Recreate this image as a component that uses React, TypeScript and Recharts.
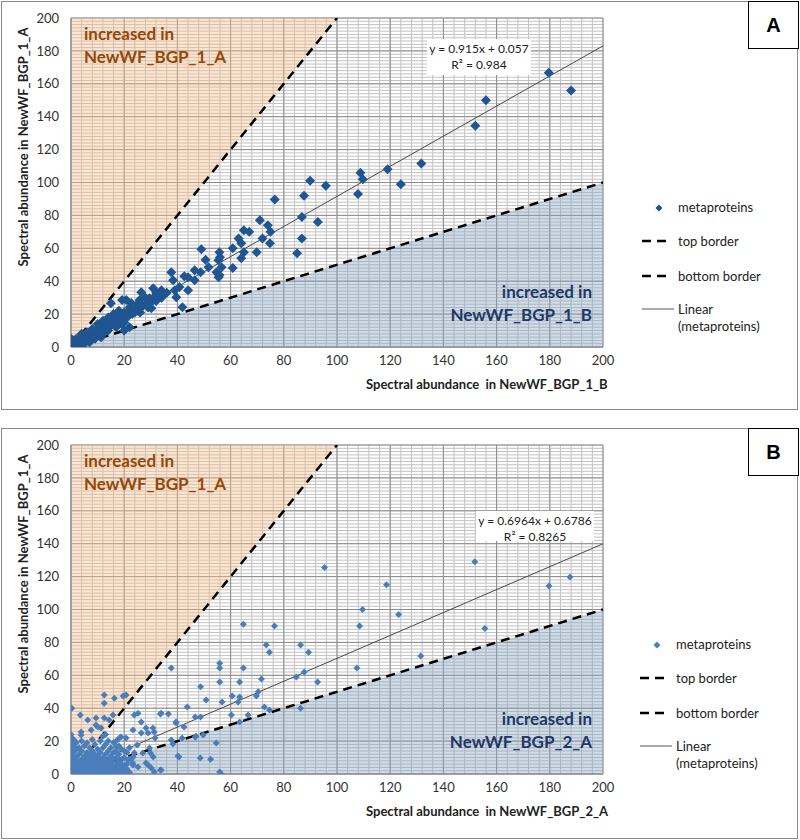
import React from 'react';
import {
  ComposedChart,
  Scatter,
  Line,
  Area,
  XAxis,
  YAxis,
  CartesianGrid,
} from 'recharts';

// axis ticks shared by both panels
const MAJOR_TICKS = [0, 20, 40, 60, 80, 100, 120, 140, 160, 180, 200];
const MINOR_X = Array.from({ length: 51 }, (_, i) => i * 4);
const MINOR_Y = Array.from({ length: 101 }, (_, i) => i * 2);

// borders (fold-change 2) and shaded zones
const topBorder = [
  { x: 0, y: 0 },
  { x: 100, y: 200 },
];
const bottomBorder = [
  { x: 0, y: 0 },
  { x: 200, y: 100 },
];
const zoneA = [
  { x: 0, v: [0, 200] },
  { x: 100, v: [200, 200] },
];
const zoneB = [
  { x: 0, v: [0, 0] },
  { x: 200, v: [0, 100] },
];

// panel A: NewWF_BGP_1_B (x) vs NewWF_BGP_1_A (y)
const pointsA: [number, number][] = [
  [188, 156], [179.6, 166.7], [156, 150], [152, 134.5], [131.7, 111.5], [124, 99], [119, 108],
  [109.7, 102], [108.8, 106], [107.9, 93], [95.8, 98], [89.9, 101], [87.6, 92], [76.6, 89.7],
  [86.8, 79], [92.8, 76], [86.8, 66], [85, 57], [71, 77], [74, 74], [75, 70], [72, 66], [69.8, 57.6],
  [74.8, 63], [65, 71], [67, 70], [63, 66], [60.8, 60], [64, 63], [65, 57.6], [64, 54], [60.8, 48],
  [55.8, 57.6], [56, 54.5], [55.4, 52.7], [56.6, 48.5], [54.7, 45.5], [55.8, 43.6], [49, 59.4],
  [50.6, 53], [51.7, 48.5], [48.7, 45.5], [55.5, 42.4], [46.5, 46.7], [46.5, 40.6], [44, 42.4],
  [42.6, 43], [37.7, 45.5], [38.4, 40.6], [41.9, 24.2], [44, 34.5], [40.8, 36.4], [39, 34.5],
  [39.6, 30.3], [34, 34.5], [30.9, 35.7], [29.5, 29.7], [26.4, 33.3], [25.8, 28.5], [20.8, 28.5],
  [30.2, 23.6], [22.6, 26.7], [23.8, 22.4], [22, 12], [19.2, 28.5], [15, 26.6], [20, 10], [11.3, 6],
  [0, 0], [0.5, 1], [1, 0], [1, 2], [1.5, 1], [2, 2], [2, 3], [0, 3], [0, 5], [0.5, 4], [1, 4],
  [3, 2], [3, 3], [3, 5], [4, 3], [4, 4], [4, 6], [5, 4], [5, 5], [5, 3], [6, 5], [6, 6], [6, 4],
  [7, 6], [7, 7], [7, 5], [8, 6], [8, 7], [8, 8], [9, 8], [9, 7], [9, 10], [10, 9], [10, 8], [10, 11],
  [11, 9], [11, 10], [11, 12], [12, 10], [12, 11], [12, 13], [13, 12], [13, 11], [13, 14], [14, 12],
  [14, 13], [14, 15], [15, 14], [15, 13], [15, 16], [16, 14], [16, 15], [16, 17], [17, 15], [17, 16],
  [18, 16], [18, 17], [18, 19], [19, 17], [19, 18], [20, 18], [20, 19], [20, 21], [21, 18], [21, 20],
  [22, 20], [22, 22], [23, 20], [24, 21], [24, 23], [25, 22], [26, 24], [26, 21], [27, 25], [28, 26],
  [29, 24], [30, 27], [31, 30], [32, 28], [33, 31], [34, 30], [35, 32], [36, 33], [3, 0], [5, 2],
  [7, 3], [9, 5], [12, 8], [14, 10], [17, 12], [19, 14], [20, 15], [2, 5], [4, 8], [6, 9], [8, 11],
  [10, 14], [12, 16], [14, 18], [16, 20], [18, 22], [22, 24], [25, 26], [28, 30], [32, 33],
];

// panel B: NewWF_BGP_2_A (x) vs NewWF_BGP_1_A (y)
const pointsB: [number, number][] = [
  [95.3, 125.5], [64.8, 91], [76.5, 90], [108.5, 90], [109.6, 100], [118.6, 115], [123.2, 97],
  [151.8, 129], [155.6, 88.5], [179.7, 114.3], [187.6, 119.8], [131.5, 71.7],
  [73.4, 78.4], [74.6, 74], [86.3, 78.4], [89.3, 74], [87.7, 62], [84.7, 59], [86.3, 40], [92.7, 56],
  [107.5, 64.5], [55.9, 67.3], [55.9, 64.5], [64.8, 64.5], [55.9, 56], [63.4, 56], [71.6, 57.7],
  [60.6, 47.4], [63.4, 46.8], [62.8, 43.8], [70.4, 50], [69.7, 47.4], [60.3, 35.9], [66.6, 35.9],
  [63.4, 31.6], [72.7, 40.7], [74.6, 38.9], [56.8, 43.8], [48.7, 53], [50.8, 45], [48.7, 34.6],
  [46.7, 34.6], [49.7, 23.7], [48.6, 9.7], [52.5, 9], [43.7, 40.7], [42.5, 28.6], [41.8, 21.9],
  [40.6, 10.4], [37.7, 64.5], [39.5, 31.6], [36.6, 36.5], [33.6, 36.5], [37.7, 20.7], [38.3, 18.2],
  [46.7, 22.5], [54.6, 18.9], [55.9, 1.2], [56.5, 0], [30.8, 28], [31.3, 25.5], [31.6, 21.9],
  [29.9, 12.8], [29, 5.5], [31.3, 1.2], [33.6, 2.4], [29.5, 15.8], [25.2, 37], [23.8, 35.9],
  [26.4, 31.6], [26.4, 24.9], [23.3, 26.7], [20.7, 21.9], [18.2, 21.9], [20, 0.6], [20.7, 48],
  [16.3, 46], [12.5, 48], [12.5, 43], [15.8, 35.9], [12.5, 34], [10.1, 28.6], [7.6, 26.7],
  [3.8, 25.5], [0.3, 40], [3.5, 35.9], [6.3, 32.8], [3.8, 23.7], [23.8, 12.8], [23.2, 6.7],
  [27, 12.8], [19.6, 47.4], [9.4, 34], [14.3, 32.8], [9.4, 29.8], [11.3, 28], [28.2, 28], [29, 25],
  [24.9, 17.6], [23.3, 10.4], [30.9, 10.4], [28.2, 6.7], [25.2, 4.3], [30.2, 3.6], [33.9, 2.4],
  [20, 1.2], [23.3, 5.5], [21.4, 8.5], [18.8, 22.5], [17, 16.4], [47, 23], [39.5, 31], [40.2, 11],
  [33.9, 37],
  [0, 0], [0, 2], [0, 4], [0, 6], [0, 8], [0, 10], [0, 12], [0, 14], [0, 16], [0, 18], [0, 20],
  [0, 22], [0, 24], [1, 0], [1, 3], [1, 5], [1, 7], [1, 9], [1, 11], [1, 13], [1, 17], [1, 21],
  [2, 0], [2, 1], [2, 4], [2, 6], [2, 8], [2, 10], [2, 15], [2, 19], [3, 0], [3, 2], [3, 3], [3, 5],
  [3, 7], [3, 12], [3, 16], [4, 0], [4, 1], [4, 4], [4, 6], [4, 9], [4, 14], [4, 20], [5, 0], [5, 2],
  [5, 3], [5, 5], [5, 8], [5, 11], [5, 17], [6, 0], [6, 1], [6, 4], [6, 6], [6, 10], [6, 13], [6, 19],
  [7, 0], [7, 2], [7, 3], [7, 5], [7, 8], [7, 12], [7, 16], [8, 0], [8, 1], [8, 4], [8, 7], [8, 10],
  [8, 14], [8, 21], [9, 0], [9, 2], [9, 3], [9, 6], [9, 9], [9, 12], [9, 18], [10, 0], [10, 1],
  [10, 4], [10, 5], [10, 8], [10, 11], [10, 15], [11, 0], [11, 3], [11, 6], [11, 9], [11, 13],
  [11, 20], [12, 0], [12, 2], [12, 4], [12, 7], [12, 10], [12, 16], [12, 23], [13, 0], [13, 1],
  [13, 5], [13, 8], [13, 12], [13, 18], [13, 24], [14, 0], [14, 3], [14, 6], [14, 9], [14, 14],
  [14, 20], [15, 0], [15, 2], [15, 4], [15, 7], [15, 11], [15, 16], [16, 0], [16, 1], [16, 5],
  [16, 9], [16, 13], [16, 19], [17, 0], [17, 3], [17, 6], [17, 10], [17, 14], [17, 20], [18, 0],
  [18, 2], [18, 4], [18, 8], [18, 12], [18, 17], [19, 0], [19, 3], [19, 6], [19, 9], [19, 15],
  [20, 0], [20, 2], [20, 5], [20, 10], [20, 14], [21, 3], [21, 6], [22, 1], [22, 9], [22, 16], [21, 13],
];

// trend lines (Excel "Linear (metaproteins)")
const trendA = [
  { x: 0, y: 0.057 },
  { x: 200, y: 183.057 },
];
const trendB = [
  { x: 0, y: 0.6786 },
  { x: 200, y: 139.9586 },
];

const FONT = 'Lato, "Open Sans", sans-serif';
const tickStyle = { fontSize: 13, fill: '#333', fontFamily: FONT };

const PLOT_LEFT = 70;
const PLOT_RIGHT = 602;
const PLOT_TOP = 17;

const diamond = (size: number, color: string) => (props: any) => {
  const { cx, cy } = props;
  if (cx == null || cy == null) return <g />;
  const r = size / 2;
  return (
    <path
      d={`M${cx},${cy - r}L${cx + r},${cy}L${cx},${cy + r}L${cx - r},${cy}Z`}
      fill={color}
    />
  );
};

interface PanelProps {
  top: number;
  height: number;
  plotBottom: number;
  points: [number, number][];
  trend: { x: number; y: number }[];
  color: string;
  size: number;
  letter: string;
  eq: string;
  r2: string;
  eqBox: { left: number; top: number; width: number; height: number };
  xTitle: string;
  lowLabel: string;
  legendTop: number;
  legendLeft: number;
}

function Panel(p: PanelProps) {
  const data = p.points.map(([x, y]) => ({ x, y }));
  const plotH = p.plotBottom - PLOT_TOP;
  const plotW = PLOT_RIGHT - PLOT_LEFT;
  // grid positions in pixels (gridlines only, not data marks)
  const gx = (vals: number[]) => vals.map((v) => PLOT_LEFT + (v / 200) * plotW);
  const gy = (vals: number[]) => vals.map((v) => PLOT_TOP + ((200 - v) / 200) * plotH);
  return (
    <div
      style={{
        position: 'absolute',
        left: 1,
        top: p.top,
        width: 797,
        height: p.height,
        border: '1px solid #8a8a8a',
        boxSizing: 'border-box',
        fontFamily: FONT,
      }}
    >
      <div style={{ position: 'absolute', left: -1, top: -1 }}>
        <ComposedChart
          width={800}
          height={p.height}
          margin={{ top: PLOT_TOP, right: 800 - PLOT_RIGHT, left: 10, bottom: p.height - p.plotBottom - 30 }}
        >
          <CartesianGrid
            stroke="#c2c2c2"
            horizontalPoints={gy(MINOR_Y)}
            verticalPoints={gx(MINOR_X)}
          />
          <CartesianGrid
            stroke="#8c8c8c"
            horizontalPoints={gy(MAJOR_TICKS)}
            verticalPoints={gx(MAJOR_TICKS)}
          />
          <XAxis
            type="number"
            dataKey="x"
            domain={[0, 200]}
            ticks={MAJOR_TICKS}
            allowDataOverflow
            height={30}
            tickLine={false}
            tickSize={0}
            tickMargin={9}
            axisLine={{ stroke: '#868686' }}
            tick={tickStyle}
          />
          <YAxis
            type="number"
            dataKey="y"
            domain={[0, 200]}
            ticks={MAJOR_TICKS}
            allowDataOverflow
            width={60}
            tickLine={false}
            tickSize={0}
            tickMargin={12}
            axisLine={{ stroke: '#868686' }}
            tick={tickStyle}
          />
          <Area
            data={zoneA}
            dataKey="v"
            type="linear"
            stroke="none"
            fill="#f7c08e"
            fillOpacity={0.4}
            isAnimationActive={false}
          />
          <Area
            data={zoneB}
            dataKey="v"
            type="linear"
            stroke="none"
            fill="#8aa5c6"
            fillOpacity={0.4}
            isAnimationActive={false}
          />
          <Line
            data={topBorder}
            dataKey="y"
            type="linear"
            stroke="#000"
            strokeWidth={2.5}
            strokeDasharray="9 6"
            dot={false}
            isAnimationActive={false}
          />
          <Line
            data={bottomBorder}
            dataKey="y"
            type="linear"
            stroke="#000"
            strokeWidth={2.5}
            strokeDasharray="9 6"
            dot={false}
            isAnimationActive={false}
          />
          <Scatter
            data={data}
            dataKey="y"
            shape={diamond(p.size, p.color)}
            isAnimationActive={false}
          />
          <Line
            data={p.trend}
            dataKey="y"
            type="linear"
            stroke="#4a4a4a"
            strokeWidth={1}
            dot={false}
            isAnimationActive={false}
          />
        </ComposedChart>
      </div>

      {/* zone labels */}
      <div
        style={{
          position: 'absolute',
          left: 82,
          top: 20,
          color: '#974706',
          fontWeight: 700,
          fontSize: 17,
          lineHeight: '23px',
        }}
      >
        increased in
        <br />
        NewWF_BGP_1_A
      </div>
      <div
        style={{
          position: 'absolute',
          right: 797 - 592,
          top: p.plotBottom - 68,
          color: '#1f3864',
          fontWeight: 700,
          fontSize: 17,
          lineHeight: '23px',
          textAlign: 'right',
        }}
      >
        increased in
        <br />
        {p.lowLabel}
      </div>

      {/* trend equation */}
      <div
        style={{
          position: 'absolute',
          left: p.eqBox.left,
          top: p.eqBox.top,
          width: p.eqBox.width,
          height: p.eqBox.height,
          background: '#fff',
          fontSize: 12,
          lineHeight: '16px',
          textAlign: 'center',
          color: '#222',
          paddingTop: 2,
          boxSizing: 'border-box',
        }}
      >
        {p.eq}
        <br />
        {p.r2}
      </div>

      {/* axis titles */}
      <div
        style={{
          position: 'absolute',
          left: 364,
          top: p.plotBottom + 28,
          fontWeight: 700,
          fontSize: 13,
          color: '#222',
          whiteSpace: 'pre',
        }}
      >
        {p.xTitle}
      </div>
      <div
        style={{
          position: 'absolute',
          left: 21,
          top: PLOT_TOP + plotH * 0.39,
          transform: 'translate(-50%, -50%) rotate(-90deg)',
          fontWeight: 700,
          fontSize: 13,
          color: '#222',
          whiteSpace: 'pre',
        }}
      >
        Spectral abundance in NewWF_BGP_1_A
      </div>

      {/* panel letter */}
      <div
        style={{
          position: 'absolute',
          left: 746,
          top: -1,
          width: 51,
          height: 48,
          border: '1px solid #000',
          boxSizing: 'border-box',
          background: '#fff',
          display: 'flex',
          alignItems: 'center',
          justifyContent: 'center',
          fontWeight: 700,
          fontSize: 20,
          fontFamily: 'Liberation Sans, Arial, sans-serif',
        }}
      >
        {p.letter}
      </div>

      {/* legend */}
      <svg
        style={{ position: 'absolute', left: p.legendLeft, top: p.legendTop }}
        width={40}
        height={120}
      >
        {diamond(7, p.color)({ cx: 19, cy: 6 })}
        <line x1={2} x2={29} y1={39} y2={39} stroke="#000" strokeWidth={2.5} strokeDasharray="9 6" />
        <line x1={2} x2={29} y1={74} y2={74} stroke="#000" strokeWidth={2.5} strokeDasharray="9 6" />
        <line x1={2} x2={34} y1={107} y2={107} stroke="#555" strokeWidth={1} />
      </svg>
      <div
        style={{
          position: 'absolute',
          left: p.legendLeft + 38,
          top: p.legendTop - 3,
          fontSize: 13,
          color: '#222',
          lineHeight: '17px',
        }}
      >
        <div style={{ height: 34 }}>metaproteins</div>
        <div style={{ height: 35 }}>top border</div>
        <div style={{ height: 33 }}>bottom border</div>
        <div>Linear</div>
        <div>(metaproteins)</div>
      </div>
    </div>
  );
}

export default function App() {
  return (
    <div
      style={{
        position: 'absolute',
        left: 0,
        top: 0,
        width: 800,
        height: 840,
        background: '#fff',
      }}
    >
      <Panel
        top={1}
        height={409}
        plotBottom={346}
        points={pointsA}
        trend={trendA}
        color="#1f5591"
        size={10}
        letter="A"
        eq="y = 0.915x + 0.057"
        r2="R² = 0.984"
        eqBox={{ left: 425, top: 37, width: 104, height: 36 }}
        xTitle="Spectral abundance  in NewWF_BGP_1_B"
        lowLabel="NewWF_BGP_1_B"
        legendTop={200}
        legendLeft={638}
      />
      <Panel
        top={428}
        height={411}
        plotBottom={346}
        points={pointsB}
        trend={trendB}
        color="#4a7ebb"
        size={7}
        letter="B"
        eq="y = 0.6964x + 0.6786"
        r2="R² = 0.8265"
        eqBox={{ left: 474, top: 82, width: 118, height: 30 }}
        xTitle="Spectral abundance  in NewWF_BGP_2_A"
        lowLabel="NewWF_BGP_2_A"
        legendTop={210}
        legendLeft={636}
      />
    </div>
  );
}
